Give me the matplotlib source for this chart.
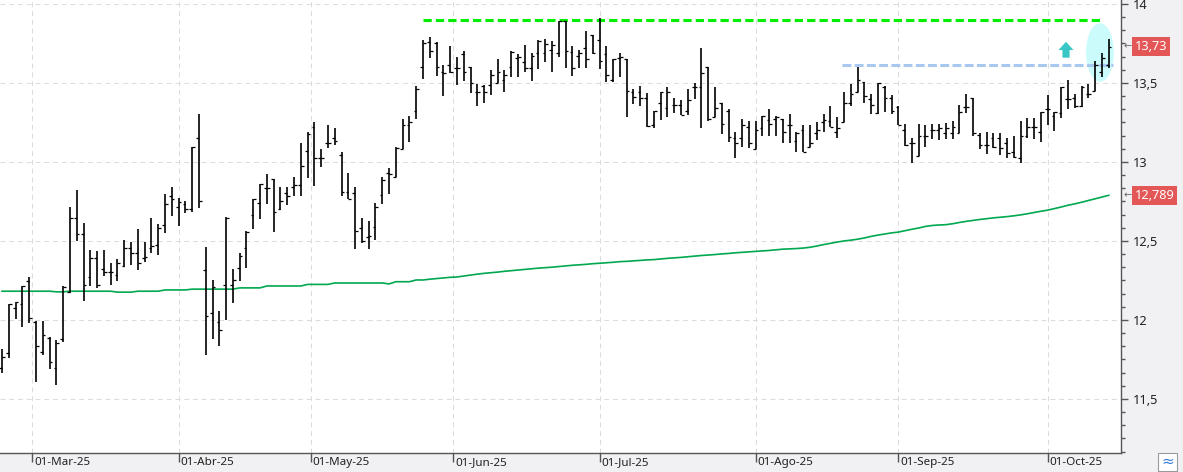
import pandas as pd
import matplotlib as mpl
mpl.use("Agg")
import matplotlib.pyplot as plt
import matplotlib.transforms as mtrans
from matplotlib.patches import Ellipse, FancyArrow, Rectangle
from matplotlib.ticker import FixedLocator, MultipleLocator, FuncFormatter

plt.rcParams["font.family"] = ["Noto Sans", "DejaVu Sans"]

# sesiones de mercado (sin festivos de la bolsa)
holidays = ["2025-04-18", "2025-04-21", "2025-05-01"]
dates = pd.bdate_range("2025-02-24", "2025-10-14")
dates = dates[~dates.isin(pd.to_datetime(holidays))]

opens = [11.694, 11.793, 12.076, 12.101, 12.249, 11.985, 11.795, 11.888, 11.694, 11.878,
         12.177, 12.644, 12.544, 12.270, 12.390, 12.323, 12.302, 12.283, 12.340, 12.456,
         12.424, 12.390, 12.454, 12.473, 12.601, 12.785, 12.713, 12.734, 12.703, 13.150,
         12.315, 12.042, 11.985, 12.222, 12.220, 12.329, 12.454, 12.665, 12.739, 12.834,
         12.892, 12.701, 12.802, 12.840, 12.853, 13.068, 13.223, 13.027, 13.118, 13.150,
         13.044, 12.808, 12.802, 12.582, 12.527, 12.591, 12.791, 12.928, 12.907, 13.080,
         13.234, 13.323, 13.599, 13.761, 13.753, 13.568, 13.614, 13.597, 13.684, 13.601,
         13.443, 13.481, 13.489, 13.498, 13.519, 13.601, 13.660, 13.633, 13.593, 13.688,
         13.688, 13.709, 13.688, 13.890, 13.698, 13.671, 13.720, 13.804, 13.772, 13.682,
         13.519, 13.656, 13.650, 13.443, 13.441, 13.403, 13.234, 13.372, 13.340, 13.359,
         13.359, 13.323, 13.473, 13.473, 13.599, 13.287, 13.372, 13.323, 13.150, 13.150,
         13.223, 13.080, 13.213, 13.266, 13.270, 13.270, 13.234, 13.131, 13.203, 13.097,
         13.182, 13.253, 13.259, 13.188, 13.255, 13.375, 13.445, 13.508, 13.399, 13.308,
         13.477, 13.403, 13.350, 13.203, 13.118, 13.040, 13.165, 13.203, 13.203, 13.182,
         13.182, 13.186, 13.350, 13.403, 13.171, 13.108, 13.150, 13.150, 13.118, 13.065,
         13.023, 13.165, 13.220, 13.192, 13.334, 13.291, 13.308, 13.399, 13.403, 13.354,
         13.430, 13.449, 13.572, 13.614]

highs = [11.816, 12.101, 12.114, 12.215, 12.270, 11.994, 11.994, 11.892, 11.873, 12.215,
         12.717, 12.823, 12.616, 12.443, 12.437, 12.443, 12.359, 12.388, 12.506, 12.494,
         12.574, 12.496, 12.646, 12.606, 12.796, 12.844, 12.772, 12.755, 13.095, 13.304,
         12.464, 12.253, 12.057, 12.650, 12.323, 12.422, 12.563, 12.766, 12.861, 12.924,
         12.892, 12.840, 12.840, 12.903, 13.122, 13.190, 13.251, 13.082, 13.234, 13.213,
         13.061, 12.930, 12.842, 12.648, 12.628, 12.742, 12.905, 12.964, 13.093, 13.270,
         13.291, 13.481, 13.772, 13.789, 13.758, 13.614, 13.734, 13.667, 13.703, 13.601,
         13.494, 13.489, 13.582, 13.652, 13.582, 13.703, 13.684, 13.741, 13.688, 13.772,
         13.778, 13.768, 13.894, 13.890, 13.734, 13.709, 13.829, 13.804, 13.909, 13.736,
         13.652, 13.688, 13.652, 13.462, 13.481, 13.439, 13.323, 13.443, 13.477, 13.403,
         13.392, 13.462, 13.498, 13.723, 13.599, 13.473, 13.372, 13.337, 13.192, 13.272,
         13.259, 13.259, 13.291, 13.334, 13.291, 13.272, 13.302, 13.188, 13.234, 13.234,
         13.255, 13.304, 13.354, 13.283, 13.443, 13.494, 13.599, 13.508, 13.430, 13.502,
         13.481, 13.424, 13.354, 13.239, 13.154, 13.239, 13.234, 13.239, 13.239, 13.249,
         13.261, 13.359, 13.430, 13.403, 13.186, 13.188, 13.186, 13.186, 13.154, 13.165,
         13.259, 13.277, 13.277, 13.318, 13.424, 13.318, 13.477, 13.519, 13.430, 13.481,
         13.492, 13.639, 13.692, 13.777]

lows = [11.663, 11.761, 12.008, 11.958, 11.983, 11.610, 11.778, 11.692, 11.591, 11.861,
        12.173, 12.502, 12.122, 12.217, 12.201, 12.280, 12.220, 12.245, 12.338, 12.350,
        12.314, 12.369, 12.422, 12.411, 12.549, 12.660, 12.597, 12.679, 12.682, 12.711,
        11.778, 11.882, 11.837, 12.002, 12.110, 12.249, 12.331, 12.574, 12.641, 12.736,
        12.559, 12.694, 12.728, 12.785, 12.785, 12.901, 12.848, 12.970, 13.091, 13.110,
        12.787, 12.764, 12.451, 12.489, 12.451, 12.506, 12.736, 12.799, 12.907, 13.080,
        13.129, 13.270, 13.525, 13.660, 13.544, 13.418, 13.565, 13.489, 13.513, 13.439,
        13.356, 13.375, 13.424, 13.498, 13.445, 13.540, 13.540, 13.568, 13.515, 13.591,
        13.635, 13.568, 13.667, 13.593, 13.546, 13.593, 13.593, 13.682, 13.589, 13.508,
        13.508, 13.540, 13.287, 13.367, 13.354, 13.220, 13.217, 13.266, 13.287, 13.308,
        13.299, 13.299, 13.399, 13.217, 13.259, 13.283, 13.179, 13.129, 13.027, 13.097,
        13.091, 13.080, 13.165, 13.165, 13.165, 13.118, 13.118, 13.061, 13.061, 13.097,
        13.139, 13.192, 13.220, 13.150, 13.251, 13.354, 13.445, 13.375, 13.302, 13.302,
        13.318, 13.304, 13.234, 13.101, 12.996, 13.040, 13.097, 13.144, 13.139, 13.144,
        13.144, 13.182, 13.308, 13.165, 13.080, 13.049, 13.087, 13.044, 13.023, 13.023,
        12.996, 13.150, 13.144, 13.129, 13.234, 13.198, 13.280, 13.334, 13.340, 13.350,
        13.403, 13.449, 13.540, 13.593]

closes = [11.764, 12.099, 12.112, 12.213, 12.011, 11.835, 11.905, 11.732, 11.854, 12.211,
          12.644, 12.544, 12.220, 12.390, 12.220, 12.302, 12.304, 12.359, 12.456, 12.424,
          12.359, 12.401, 12.468, 12.584, 12.734, 12.766, 12.745, 12.703, 13.093, 12.753,
          12.025, 12.211, 11.937, 12.648, 12.253, 12.407, 12.559, 12.764, 12.861, 12.834,
          12.682, 12.753, 12.783, 12.853, 12.975, 13.180, 13.023, 13.023, 13.118, 13.131,
          12.808, 12.764, 12.563, 12.502, 12.532, 12.717, 12.886, 12.924, 13.091, 13.234,
          13.253, 13.460, 13.751, 13.703, 13.599, 13.563, 13.570, 13.593, 13.570, 13.500,
          13.443, 13.441, 13.549, 13.570, 13.549, 13.698, 13.667, 13.597, 13.671, 13.768,
          13.747, 13.741, 13.894, 13.701, 13.593, 13.692, 13.650, 13.688, 13.639, 13.551,
          13.650, 13.667, 13.451, 13.409, 13.403, 13.228, 13.323, 13.443, 13.443, 13.359,
          13.299, 13.392, 13.477, 13.561, 13.270, 13.340, 13.239, 13.160, 13.118, 13.232,
          13.118, 13.203, 13.291, 13.241, 13.283, 13.188, 13.234, 13.182, 13.061, 13.118,
          13.203, 13.266, 13.220, 13.213, 13.375, 13.430, 13.519, 13.420, 13.361, 13.498,
          13.403, 13.323, 13.234, 13.108, 13.118, 13.165, 13.165, 13.203, 13.217, 13.213,
          13.223, 13.318, 13.350, 13.182, 13.108, 13.108, 13.097, 13.087, 13.055, 13.030,
          13.165, 13.220, 13.220, 13.318, 13.334, 13.314, 13.473, 13.399, 13.354, 13.473,
          13.430, 13.614, 13.656, 13.730]

# media movil (verde)
ma = [12.182, 12.182, 12.182, 12.182, 12.182, 12.182, 12.182, 12.182, 12.178, 12.178,
      12.182, 12.182, 12.182, 12.182, 12.182, 12.182, 12.182, 12.176, 12.176, 12.176,
      12.182, 12.182, 12.182, 12.182, 12.190, 12.190, 12.190, 12.190, 12.195, 12.195,
      12.195, 12.195, 12.195, 12.195, 12.195, 12.203, 12.203, 12.203, 12.203, 12.215,
      12.215, 12.215, 12.215, 12.215, 12.215, 12.225, 12.225, 12.225, 12.225, 12.234,
      12.234, 12.234, 12.234, 12.234, 12.234, 12.234, 12.234, 12.228, 12.242, 12.242,
      12.242, 12.253, 12.253, 12.258, 12.262, 12.266, 12.270, 12.272, 12.278, 12.284,
      12.290, 12.295, 12.299, 12.303, 12.308, 12.312, 12.316, 12.320, 12.324, 12.328,
      12.331, 12.334, 12.338, 12.342, 12.346, 12.349, 12.352, 12.356, 12.359, 12.362,
      12.365, 12.369, 12.371, 12.374, 12.377, 12.380, 12.382, 12.386, 12.390, 12.393,
      12.396, 12.400, 12.404, 12.408, 12.411, 12.414, 12.418, 12.421, 12.425, 12.428,
      12.431, 12.434, 12.437, 12.440, 12.444, 12.448, 12.450, 12.452, 12.455, 12.460,
      12.468, 12.477, 12.485, 12.493, 12.500, 12.505, 12.511, 12.519, 12.529, 12.537,
      12.544, 12.551, 12.556, 12.565, 12.574, 12.582, 12.592, 12.598, 12.601, 12.603,
      12.609, 12.617, 12.624, 12.630, 12.636, 12.641, 12.646, 12.650, 12.654, 12.659,
      12.665, 12.672, 12.680, 12.688, 12.695, 12.705, 12.715, 12.726, 12.735, 12.745,
      12.756, 12.767, 12.778, 12.789]

month_starts = ["2025-03-01", "2025-04-01", "2025-05-01", "2025-06-01",
                "2025-07-01", "2025-08-01", "2025-09-01", "2025-10-01"]
month_labels = ["01-Mar-25", "01-Abr-25", "01-May-25", "01-Jun-25",
                "01-Jul-25", "01-Ago-25", "01-Sep-25", "01-Oct-25"]
y_ticks = [11.5, 12, 12.5, 13, 13.5, 14]

resistance = 13.897   # maximos (linea verde discontinua)
breakout = 13.612     # linea azul discontinua


def pos(day):
    """indice de la primera sesion >= day (medio paso antes si no cae en ese dia)"""
    day = pd.Timestamp(day)
    i = int(dates.searchsorted(day))
    return i if dates[i] == day else i - 0.55


def fmt(v):
    return f"{v:g}".replace(".", ",")


def main():
    n = len(dates)
    assert len(opens) == len(highs) == len(lows) == len(closes) == len(ma) == n
    x = list(range(n))

    fig = plt.figure(figsize=(11.83, 4.72), dpi=100, facecolor="#f1f1f3")
    ax = fig.add_axes([0, 1 - 453 / 472, 1121 / 1183, 453 / 472])
    ax.set_facecolor("white")
    ax.set_xlim(-0.3, 164.8)
    ax.set_ylim(11.158, 14.025)

    # rejilla
    ax.grid(True, which="major", color="#dadada", lw=0.7, linestyle=(0, (5, 4)))
    ax.set_axisbelow(True)

    # zona de ruptura
    ax.add_patch(Ellipse((pos("2025-10-10") + 0.7, 13.693), 4.1, 0.37,
                         fc="#cbfbfb", ec="none", zorder=1))
    ax.add_patch(FancyArrow(pos("2025-10-03") + 0.7, 13.660, 0, 0.101, width=1.05,
                            head_width=2.2, head_length=0.053, length_includes_head=True,
                            fc="#38c6c6", ec="none", zorder=3))

    ax.hlines(resistance, pos("2025-05-26"), pos("2025-10-13"), color="#00ee00",
              lw=2.2, linestyle=(0, (2.7, 1.35)), zorder=2)
    ax.hlines(breakout, pos("2025-08-20") - 0.3, pos("2025-10-14") + 0.65, color="#a9c8f0",
              lw=2.2, linestyle=(0, (2.9, 1.1)), zorder=2)

    # media movil
    ax.plot(x, ma, color="#00a850", lw=1.2, zorder=2)

    # barras OHLC
    tick = 0.4
    ax.vlines(x, lows, highs, color="black", lw=1.2, zorder=4)
    ax.hlines(opens, [i - tick for i in x], x, color="black", lw=0.9, zorder=4)
    ax.hlines(closes, x, [i + tick for i in x], color="black", lw=0.9, zorder=4)

    # ejes
    for side in ["top", "left"]:
        ax.spines[side].set_visible(False)
    for side in ["right", "bottom"]:
        ax.spines[side].set_color("#555555")
        ax.spines[side].set_linewidth(1.0)

    ax.yaxis.tick_right()
    ax.yaxis.set_major_locator(FixedLocator(y_ticks))
    ax.yaxis.set_minor_locator(MultipleLocator(0.5 / 6))
    ax.yaxis.set_major_formatter(FuncFormatter(lambda v, p: fmt(v)))
    ax.tick_params(axis="y", which="major", length=5, width=1, color="#555555",
                   labelsize=9.2, labelcolor="#222222", pad=3.5)
    ax.tick_params(axis="y", which="minor", length=3, width=1, color="#555555")

    ax.set_xticks([pos(m) for m in month_starts])
    ax.set_xticklabels(month_labels, ha="left")
    ax.tick_params(axis="x", length=6.5, width=1, color="#555555",
                   labelsize=8.4, labelcolor="#222222", pad=-3.5)
    shift = mtrans.ScaledTranslation(1.5 / 72, 0, fig.dpi_scale_trans)
    for lab in ax.get_xticklabels():
        lab.set_transform(lab.get_transform() + shift)

    # etiquetas de precio a la derecha
    for val, txt in [(closes[-1], "13,73"), (ma[-1], "12,789")]:
        ax.annotate(txt, xy=(1, val), xycoords=("axes fraction", "data"),
                    xytext=(10, 0), textcoords="offset points", ha="left", va="center",
                    fontsize=9.2, color="white", annotation_clip=False,
                    bbox=dict(boxstyle="square,pad=0.22", fc="#e35757", ec="none"))
        ax.annotate("\u2190", xy=(1, val), xycoords=("axes fraction", "data"),
                    xytext=(1.5, 0), textcoords="offset points", ha="left", va="center",
                    fontsize=7, color="#666666", annotation_clip=False)

    # icono abajo a la derecha
    fig.patches.append(Rectangle((1158 / 1183, 1 / 472), 19 / 1183, 18 / 472,
                                 transform=fig.transFigure, fc="white", ec="#9a9a9a", lw=0.8))
    fig.text(1167.5 / 1183, 10 / 472, "\u2248", ha="center", va="center",
             fontsize=11, color="#3a7fd5")

    fig.savefig("out.png", dpi=100, facecolor=fig.get_facecolor())


if __name__ == "__main__":
    main()
